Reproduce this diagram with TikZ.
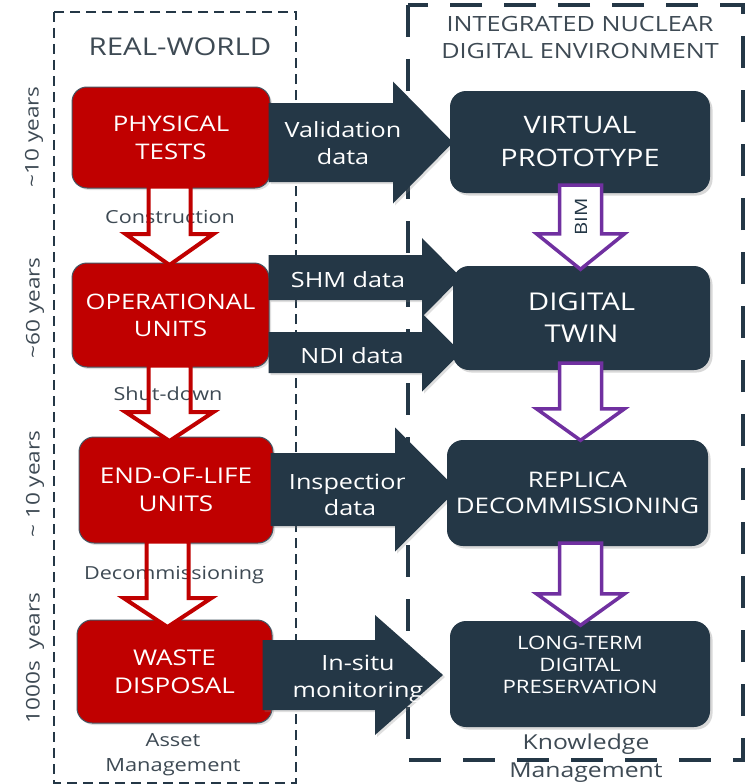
\documentclass[tikz,border=0pt]{standalone}
\usepackage{fontspec}
\setmainfont{Open Sans}[FakeStretch=1.2]
\usetikzlibrary{calc,shadows}

\definecolor{dk}{HTML}{243746}
\definecolor{rd}{HTML}{C00000}
\definecolor{pu}{HTML}{7030A0}
\definecolor{lbl}{HTML}{3E4A54}

\tikzset{
  fs/.style 2 args={font=\fontsize{#1}{#2}\selectfont},
  redbox/.style={rectangle, rounded corners=15pt, fill=rd, draw=dk!85, line width=1pt,
    text=white, align=center, inner sep=0pt,
    drop shadow={shadow xshift=2pt, shadow yshift=-2pt, opacity=0.25}},
  darkbox/.style={rectangle, rounded corners=16pt, fill=dk, text=white, align=center,
    inner sep=0pt, drop shadow={shadow xshift=2.5pt, shadow yshift=-2.5pt, opacity=0.3}},
  darkarrow/.style={fill=dk, drop shadow={shadow xshift=2pt, shadow yshift=-2pt, opacity=0.25}},
  arrowtext/.style={text=white, align=center, inner sep=0pt},
  sidetext/.style={text=lbl, align=center, inner sep=0pt},
  yearstext/.style={text=lbl, rotate=90, inner sep=0pt, fs={18.8}{22}},
  hollowfill/.style={fill=white, draw=none},
  redline/.style={draw=rd, line width=4pt, line join=miter},
  purpleline/.style={draw=pu, line width=3.5pt, line join=miter},
}

% hollow block arrow pointing down: #1 style, #2 shaft start, #3 tip, #4 head length
\newcommand\hollowdown[4]{%
  \path (#3) coordinate (ht);
  \path (#2) coordinate (h0);
  \path (h0 -| ht) coordinate (hs);
  \path[#1] ($(hs)+(-21,0)$) -- ($(ht)+(-21,-#4)$) -- ($(ht)+(-44,-#4)$) -- (ht)
    -- ($(ht)+(44,-#4)$) -- ($(ht)+(21,-#4)$) -- ($(hs)+(21,0)$) -- cycle;}

% solid block arrow pointing right: #1 start, #2 tip, #3 shaft half height,
% #4 head half height, #5 head length
\newcommand\blockright[5]{%
  \path (#2) coordinate (bt);
  \path (#1) coordinate (b0);
  \path (b0 |- bt) coordinate (bs);
  \fill[darkarrow] ($(bs)+(0,-#3)$) -- ($(bt)+(-#5,-#3)$) -- ($(bt)+(-#5,-#4)$) -- (bt)
    -- ($(bt)+(-#5,#4)$) -- ($(bt)+(-#5,#3)$) -- ($(bs)+(0,#3)$) -- cycle;}

\begin{document}
\begin{tikzpicture}[x=1pt, y=-1pt]
\useasboundingbox[fill=white] (0,0) rectangle (746,784);

% frames
\draw[dk, line width=1.3pt, dash pattern=on 10pt off 6pt] (54,12) rectangle (296,783);
\draw[dk, line width=4pt, dash pattern=on 32pt off 22pt] (408,5) rectangle (743,760);

% titles
\node[sidetext, fs={24.5}{29}] (rwtitle) at (180,47) {REAL-WORLD};
\node[sidetext, fs={21}{27}] (indetitle) at (580,37) {INTEGRATED NUCLEAR\\DIGITAL ENVIRONMENT};

% real-world stages
\node[redbox, minimum width=198pt, minimum height=101pt, fs={21.5}{28}] (phys) at (171,137.5) {PHYSICAL\\TESTS};
\node[redbox, minimum width=197pt, minimum height=104pt, fs={21.3}{27}] (oper) at (170.5,315) {OPERATIONAL\\UNITS};
\node[redbox, minimum width=194pt, minimum height=106pt, fs={21.7}{28}] (eol) at (176,490) {END-OF-LIFE\\UNITS};
\node[redbox, minimum width=195pt, minimum height=103pt, fs={21.7}{28}] (waste) at (174.5,671.5) {WASTE\\DISPOSAL};

% data flows
\blockright{$(phys.east)+(-2,0)$}{453,142.5}{39.5}{61}{60}
\blockright{$(oper.east)+(-1,0)$}{461,277.5}{22.5}{39.5}{39}
\blockright{$(oper.east)+(-1,0)$}{461,352.5}{20.5}{39}{39}
\blockright{$(eol.east)+(-3,0)$}{457,489.5}{36.5}{62}{62}
\blockright{$(waste.east)+(-10,0)$}{443,675}{35}{60}{68}

% digital stages
\node[darkbox, minimum width=260pt, minimum height=102pt, fs={24}{33}] (vp) at (580,142) {VIRTUAL\\PROTOTYPE};
\node[darkbox, minimum width=257pt, minimum height=104pt, fs={24.5}{32}] (dt) at (581.5,318) {DIGITAL\\TWIN};
\node[darkbox, minimum width=261pt, minimum height=106pt, fs={21.5}{26.5}] (rep) at (577.5,493) {REPLICA\\DECOMMISSIONING};
\node[darkbox, minimum width=260pt, minimum height=106pt] (lt) at (580,674) {};
\node[arrowtext, fs={18.5}{22}] (lttext) at (580,665) {LONG-TERM\\DIGITAL\\PRESERVATION};

% data flow labels
\node[arrowtext, fs={21}{27}] (valtext) at (343,143) {Validation\\data};
\node[arrowtext, fs={21}{26}] (shmtext) at (348,280) {SHM data};
\node[arrowtext, fs={21}{26}] (nditext) at (352,356) {NDI data};
\begin{scope}
  \clip (270,440) rectangle (404,540);
  \node[arrowtext, fs={21}{26}] (insptext) at (350,495) {Inspection\\data};
\end{scope}
\node[arrowtext, fs={21}{27}] (insitutext) at (358,678.5) {In-situ\\monitoring};

% life-cycle transitions (fill, labels, outline)
\hollowdown{hollowfill}{$(phys.south)+(0,-2)$}{$(oper.north)+(-1,2.5)$}{31}
\hollowdown{hollowfill}{$(oper.south)+(0,-2)$}{$(eol.north)+(-6.5,4.5)$}{29}
\hollowdown{hollowfill}{$(eol.south)+(0,-2)$}{$(waste.north)+(-7,7.5)$}{29}
\hollowdown{hollowfill}{$(vp.south)+(0,-8)$}{$(dt.north)+(-1,3.5)$}{35.5}
\hollowdown{hollowfill}{$(dt.south)+(0,-7)$}{$(rep.north)+(3,0.5)$}{31.5}
\hollowdown{hollowfill}{$(rep.south)+(0,-3)$}{$(lt.north)+(0.5,4.5)$}{31.5}

\node[sidetext, fs={18}{22}] (constr) at (170,217) {Construction};
\node[sidetext, fs={18}{22}] (shut) at (168,394) {Shut-down};
\node[sidetext, fs={18}{22}] (decom) at (174,575) {Decommissioning};
\node[text=dk, rotate=90, inner sep=0pt, fs={17}{20}] (bim) at (581,217) {BIM};

\hollowdown{redline}{$(phys.south)+(0,-2)$}{$(oper.north)+(-1,2.5)$}{31}
\hollowdown{redline}{$(oper.south)+(0,-2)$}{$(eol.north)+(-6.5,4.5)$}{29}
\hollowdown{redline}{$(eol.south)+(0,-2)$}{$(waste.north)+(-7,7.5)$}{29}
\hollowdown{purpleline}{$(vp.south)+(0,-8)$}{$(dt.north)+(-1,3.5)$}{35.5}
\hollowdown{purpleline}{$(dt.south)+(0,-7)$}{$(rep.north)+(3,0.5)$}{31.5}
\hollowdown{purpleline}{$(rep.south)+(0,-3)$}{$(lt.north)+(0.5,4.5)$}{31.5}

% footers
\node[sidetext, fs={18.2}{25}] (asset) at (173,755) {Asset\\Management};
\node[sidetext, fs={20.6}{28}] (know) at (586,758) {Knowledge\\Management};

% durations
\node[yearstext] (y1) at (34,137) {\textasciitilde10 years};
\node[yearstext] (y2) at (35,308) {\textasciitilde60 years};
\node[yearstext] (y3) at (35,484) {\textasciitilde\ 10 years};
\node[yearstext] (y4) at (35,658) {1000s\ \ years};
\end{tikzpicture}
\end{document}
